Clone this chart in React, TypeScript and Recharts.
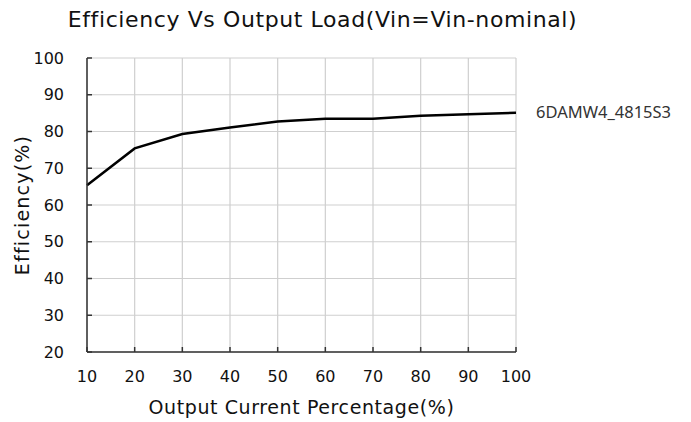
import { LineChart, Line, XAxis, YAxis, CartesianGrid } from 'recharts';

const loadPct = [10, 20, 30, 40, 50, 60, 70, 80, 90, 100];
const efficiency = [65.4, 75.4, 79.3, 81.1, 82.7, 83.5, 83.5, 84.3, 84.7, 85.1];
const xTicks = [10, 20, 30, 40, 50, 60, 70, 80, 90, 100];
const yTicks = [20, 30, 40, 50, 60, 70, 80, 90, 100];
const seriesName = '6DAMW4_4815S3';

const data = loadPct.map((x, i) => ({ x, eff: efficiency[i] }));

const gothic = "'DejaVu Sans', sans-serif";

function SeriesTag(props: any) {
  const { x, y, index } = props;
  if (index !== data.length - 1) return null;
  return (
    <text x={x + 20} y={y} dy={5} fill="#333" fontSize={16.5} fontFamily="'Noto Sans', sans-serif">
      {seriesName}
    </text>
  );
}

export default function App() {
  return (
    <div style={{ position: 'absolute', left: 0, top: 0, width: 691, height: 422, background: '#fff' }}>
      <div
        style={{
          position: 'absolute', left: 0, top: 7, width: 645, textAlign: 'center',
          fontFamily: gothic, fontSize: 22, letterSpacing: 0.6, color: '#111',
        }}
      >
        Efficiency Vs Output Load(Vin=Vin-nominal)
      </div>
      <LineChart width={691} height={422} data={data} margin={{ top: 58, right: 175, bottom: 0, left: 0 }}>
        <CartesianGrid stroke="#cfcfcf" strokeWidth={1.2} />
        <XAxis
          dataKey="x"
          type="number"
          domain={[10, 100]}
          ticks={xTicks}
          tickSize={-5}
          tickMargin={24}
          stroke="#333"
          strokeWidth={1.5}
          tick={{ fill: '#111', fontSize: 16, fontFamily: gothic }}
          height={70}
          label={{ value: 'Output Current Percentage(%)', position: 'insideBottom', offset: 8, fill: '#111', fontSize: 19, letterSpacing: 0.6, fontFamily: gothic }}
        />
        <YAxis
          type="number"
          domain={[20, 100]}
          ticks={yTicks}
          tickSize={-5}
          tickMargin={28}
          width={87}
          stroke="#333"
          strokeWidth={1.5}
          tick={{ fill: '#111', fontSize: 16, fontFamily: gothic }}
          label={{ value: 'Efficiency(%)', angle: -90, position: 'insideLeft', offset: 22, fill: '#111', fontSize: 19, letterSpacing: 1.2, fontFamily: gothic, style: { textAnchor: 'middle' } }}
        />
        <Line
          dataKey="eff"
          type="linear"
          stroke="#000"
          strokeWidth={2.5}
          dot={false}
          isAnimationActive={false}
          label={SeriesTag}
        />
      </LineChart>
    </div>
  );
}
